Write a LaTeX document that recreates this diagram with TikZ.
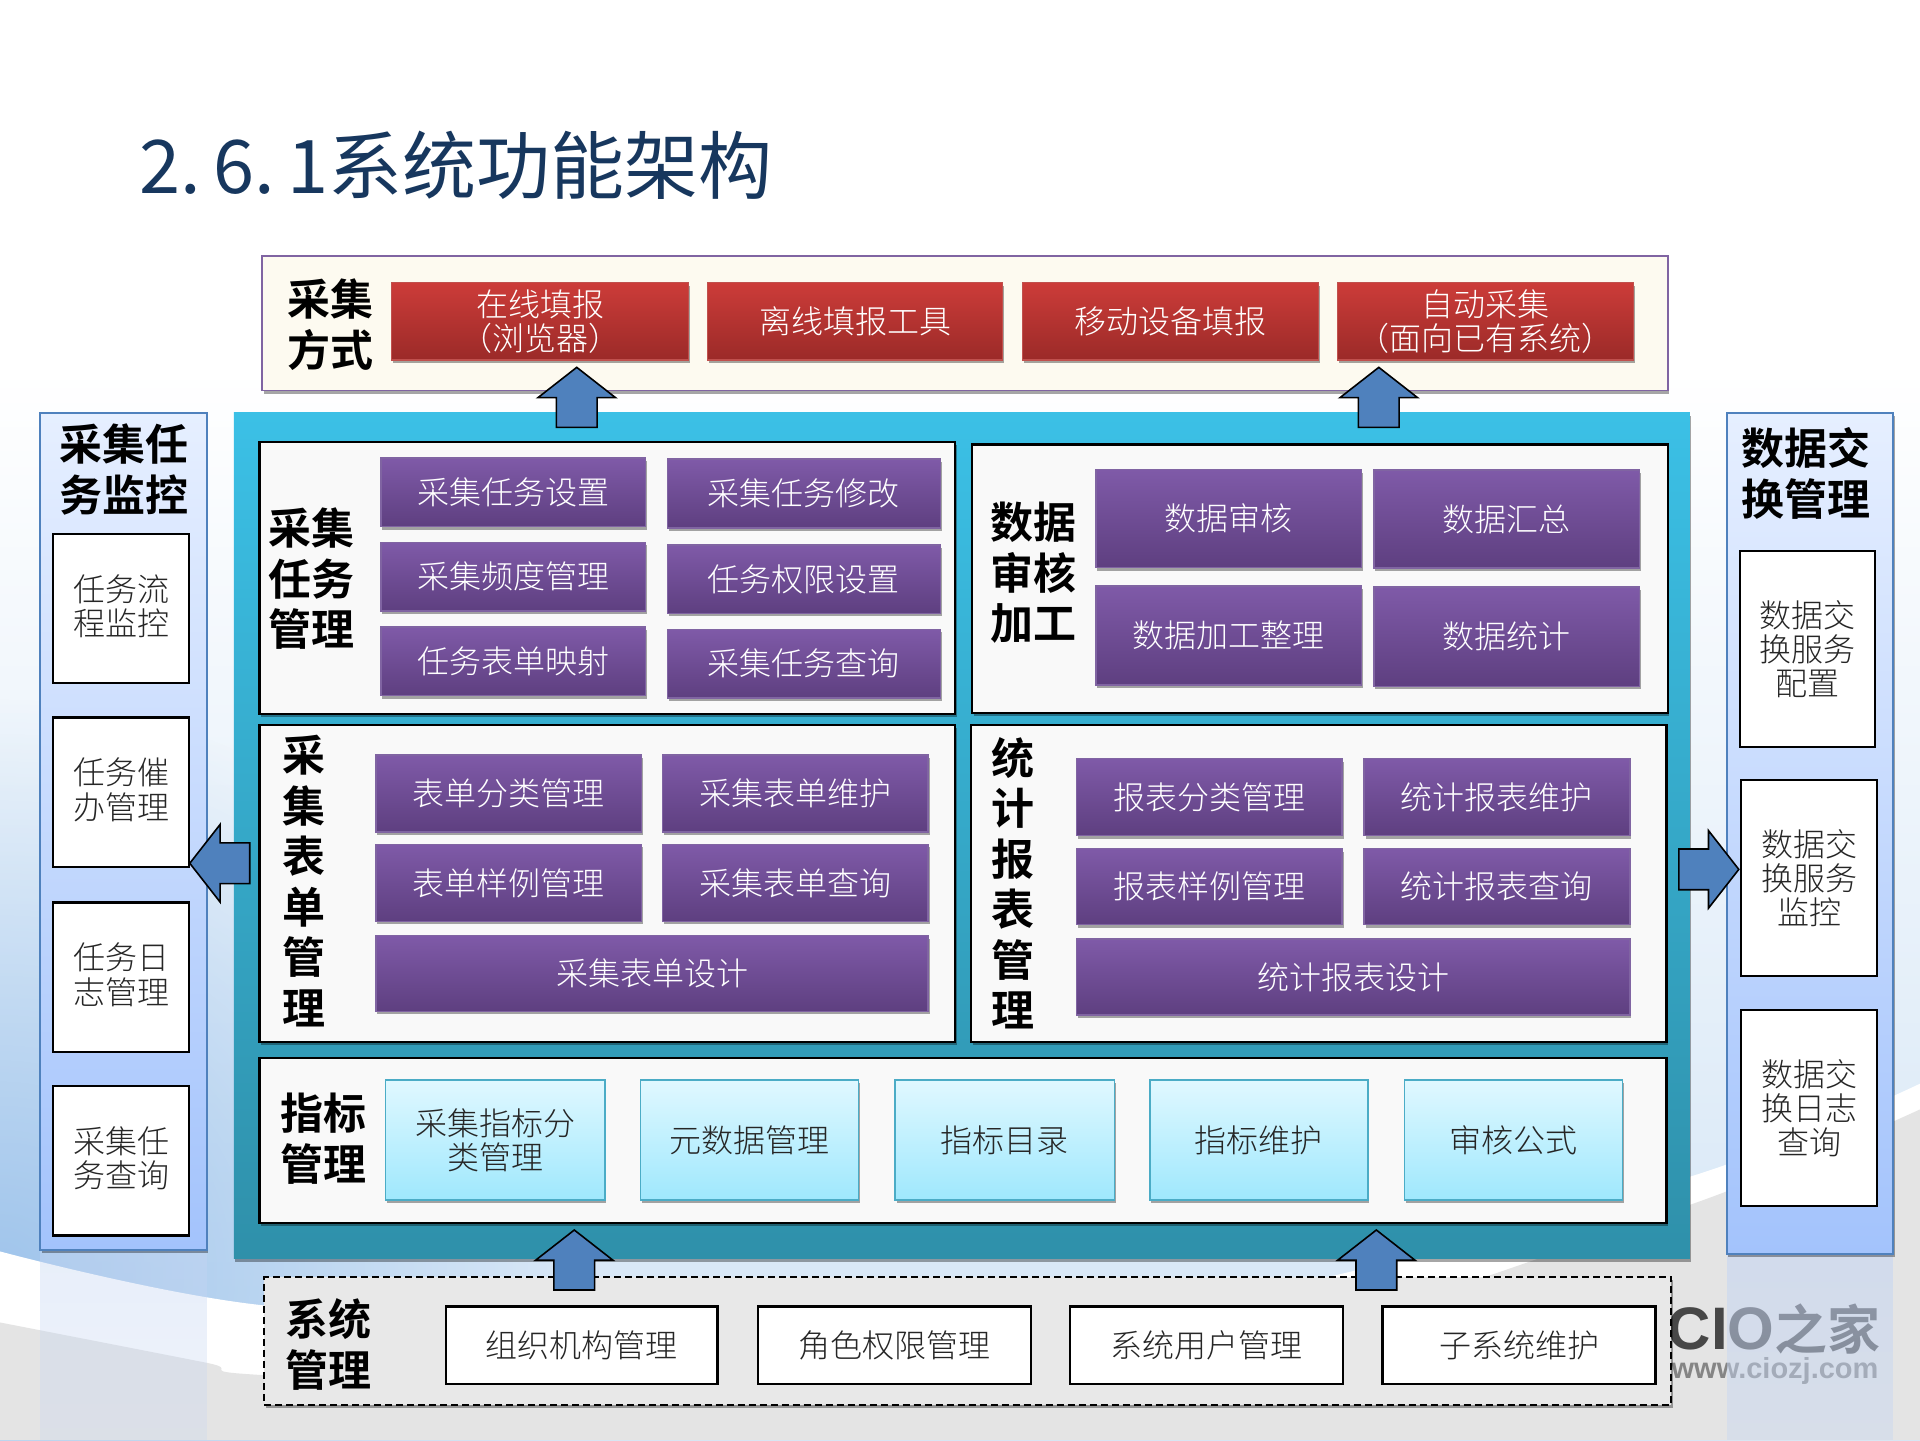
\documentclass[tikz,border=0pt]{standalone}
\usepackage{fontspec}
\usetikzlibrary{shapes.arrows,shadows,fadings}
\newfontfamily\cjk[BoldFont=Noto Sans CJK SC Bold]{Noto Sans CJK SC Light}
\newfontfamily\cjkreg{Noto Sans CJK SC}
\newfontfamily\wmfont{Liberation Sans}
\newcommand{\bodyfont}{\cjk\fontsize{32}{34.3}\selectfont}
\newcommand{\headfont}{\cjk\bfseries\fontsize{43}{50.5}\selectfont}
\definecolor{teallo}{HTML}{2F90AA}
\definecolor{tealhi}{HTML}{3BC0E6}
\definecolor{sideline}{HTML}{4F81BD}
\definecolor{redtop}{HTML}{CC3C39}
\definecolor{redlow}{HTML}{9B2A28}
\definecolor{redline}{HTML}{C0504D}
\definecolor{purpletop}{HTML}{7F5AA8}
\definecolor{purplelow}{HTML}{5E3F80}
\definecolor{purpleline}{HTML}{8064A2}
\definecolor{cyantop}{HTML}{E0F8FF}
\definecolor{cyanlow}{HTML}{9FE8FD}
\definecolor{cyanline}{HTML}{4BACC6}
\definecolor{sidetop}{HTML}{E6EFFF}
\definecolor{sidelow}{HTML}{A3C3FC}
\definecolor{skyglow}{HTML}{8DB9E8}
\definecolor{skyback}{HTML}{D2E4F5}
\definecolor{greyfloor}{HTML}{E4E4E4}
\definecolor{titleblue}{HTML}{17375E}
\definecolor{sideback}{HTML}{C6D6F2}
\definecolor{cream}{HTML}{FDFAF0}
\tikzfading[name=softglow,inner color=transparent!25,outer color=transparent!100]
\tikzfading[name=downfade,top color=transparent!20,bottom color=transparent!45]
\begin{document}
\begin{tikzpicture}[x=1.22449pt,y=-1.22449pt,
	wh/.style 2 args={minimum width=#1*1.22449pt,minimum height=#2*1.22449pt},
	boxbase/.style={rectangle,inner sep=0pt,outer sep=0pt,align=center,font=\bodyfont},
	softshadow/.style={drop shadow={shadow xshift=1.5pt,shadow yshift=-3pt,opacity=0.35,fill=black}},
	redbox/.style={boxbase,softshadow,top color=redtop,bottom color=redlow,draw=redline,line width=1.2pt,text=white},
	purplebox/.style={boxbase,softshadow,top color=purpletop,bottom color=purplelow,draw=purpleline,line width=1.5pt,text=white},
	cyanbox/.style={boxbase,softshadow,top color=cyantop,bottom color=cyanlow,draw=cyanline,line width=1.5pt,text=black!85},
	whitebox/.style={boxbase,fill=white,draw=black,line width=2.2pt,text=black!85},
	subpanel/.style={boxbase,softshadow,fill=black!2.5,draw=black,line width=2.2pt},
	sidepanel/.style={boxbase,softshadow,top color=sidetop,bottom color=sidelow,draw=sideline,line width=2pt},
	headlabel/.style={rectangle,inner sep=0pt,align=center,font=\headfont,text=black},
	blockarrow/.style={single arrow,single arrow tip angle=104,single arrow head extend=15*1.22449pt,single arrow head indent=0pt,inner xsep=0pt,inner ysep=16*1.22449pt,outer sep=0pt,fill=sideline,draw=black,line width=1.6pt,minimum height=49*1.22449pt},
	]
\useasboundingbox (0,0) rectangle (1568,1176);
\fill[top color=white,bottom color=skyback] (0,300) rectangle (1568,1176);
\fill[white] (0,0) rectangle (1568,300.5);
\fill[skyglow,path fading=softglow] (0,1040) circle (470);
\fill[white] plot[smooth] coordinates {(0,1022) (215,1066) (600,1085) (1000,1060) (1380,961) (1568,885)} -- (1568,1176) -- (0,1176) -- cycle;
\fill[greyfloor] plot[smooth] coordinates {(0,1080) (169,1113) (215,1123) (600,1138) (1000,1105) (1380,984) (1568,906)} -- (1568,1176) -- (0,1176) -- cycle;

\node[anchor=west,inner sep=0pt,font=\cjkreg\fontsize{74}{80}\selectfont,text=titleblue](title) at (114,135){\spaceskip=6.5pt 2. 6. 1系统功能架构};

\node[anchor=west,inner sep=0pt,font=\wmfont\bfseries\fontsize{60}{60}\selectfont,text=black!72](wmcio) at (1362,1085){CIO{\cjk\bfseries\fontsize{53}{53}\selectfont 之家}};
\node[anchor=west,inner sep=0pt,font=\wmfont\bfseries\fontsize{29}{29}\selectfont,text=black!48](wmurl) at (1365,1120){www.ciozj.com};
\fill[sideback,opacity=0.5,path fading=downfade] (33,1021) rectangle (169,1176);
\fill[sideback,opacity=0.75,path fading=downfade] (1410,1024) rectangle (1546,1176);

\node[boxbase,softshadow,fill=cream,draw=purpleline,line width=1.6pt,wh={1148}{110}](waypanel) at (788,264){};
\node[headlabel](waylabel) at (270,265){采集\\方式};
\node[redbox,wh={242}{63}](online) at (441,262.5){在线填报\\（浏览器）};
\node[redbox,wh={241}{63}](offline) at (698.5,262.5){离线填报工具};
\node[redbox,wh={242}{63}](mobile) at (956,262.5){移动设备填报};
\node[redbox,wh={242}{63}](auto) at (1213,262.5){自动采集\\（面向已有系统）};

\node[boxbase,softshadow,top color=tealhi,bottom color=teallo,wh={1189}{691}](mainpanel) at (785.5,682.5){};

\node[subpanel,wh={568}{222}](taskpanel) at (496,472){};
\node[headlabel](tasklabel) at (254,472.5){采集\\任务\\管理};
\node[purplebox,wh={216}{56}](t1) at (419,402){采集任务设置};
\node[purplebox,wh={223}{56}](t2) at (656.5,403){采集任务修改};
\node[purplebox,wh={216}{56}](t3) at (419,471){采集频度管理};
\node[purplebox,wh={223}{56}](t4) at (656.5,473){任务权限设置};
\node[purplebox,wh={216}{56}](t5) at (419,540){任务表单映射};
\node[purplebox,wh={223}{56}](t6) at (656.5,542){采集任务查询};

\node[subpanel,wh={568}{219}](datapanel) at (1078,472.5){};
\node[headlabel](datalabel) at (844,468){数据\\审核\\加工};
\node[purplebox,wh={217}{80}](d1) at (1003.5,423.5){数据审核};
\node[purplebox,wh={217}{80}](d2) at (1230.5,424){数据汇总};
\node[purplebox,wh={217}{81}](d3) at (1003.5,519){数据加工整理};
\node[purplebox,wh={217}{81}](d4) at (1230.5,520){数据统计};

\node[subpanel,wh={568}{259}](formpanel) at (496,721.5){};
\node[headlabel](formlabel) at (248,719.5){采\\集\\表\\单\\管\\理};
\node[purplebox,wh={217}{63}](f1) at (415.5,648){表单分类管理};
\node[purplebox,wh={217}{63}](f2) at (649.5,648){采集表单维护};
\node[purplebox,wh={217}{63}](f3) at (415.5,721){表单样例管理};
\node[purplebox,wh={217}{63}](f4) at (649.5,721){采集表单查询};
\node[purplebox,wh={451}{62}](f5) at (532.5,795){采集表单设计};

\node[subpanel,wh={568}{259}](reportpanel) at (1077,721.5){};
\node[headlabel](reportlabel) at (827,721.5){统\\计\\报\\表\\管\\理};
\node[purplebox,wh={217}{63}](r1) at (987.5,651){报表分类管理};
\node[purplebox,wh={217}{63}](r2) at (1222.5,651){统计报表维护};
\node[purplebox,wh={217}{62}](r3) at (987.5,724){报表样例管理};
\node[purplebox,wh={217}{62}](r4) at (1222.5,724){统计报表查询};
\node[purplebox,wh={452}{62}](r5) at (1105,798){统计报表设计};

\node[subpanel,wh={1149}{135}](indexpanel) at (786.5,931.5){};
\node[headlabel](indexlabel) at (264,930){指标\\管理};
\node[cyanbox,wh={179}{98}](i1) at (404.5,931){采集指标分\\类管理};
\node[cyanbox,wh={178}{98}](i2) at (612,931){元数据管理};
\node[cyanbox,wh={179}{98}](i3) at (820.5,931){指标目录};
\node[cyanbox,wh={178}{98}](i4) at (1028,931){指标维护};
\node[cyanbox,wh={178}{98}](i5) at (1236,931){审核公式};

\node[sidepanel,wh={136}{684}](monitorpanel) at (101,679){};
\node[headlabel](monitorlabel) at (101,383.5){采集任\\务监控};
\node[whitebox,text depth=7pt,wh={111}{122}](m1) at (99,497){任务流\\程监控};
\node[whitebox,text depth=7pt,wh={111}{122}](m2) at (99,647){任务催\\办管理};
\node[whitebox,text depth=7pt,wh={111}{122}](m3) at (99,798){任务日\\志管理};
\node[whitebox,text depth=7pt,wh={111}{122}](m4) at (99,948){采集任\\务查询};

\node[sidepanel,wh={136}{687}](exchangepanel) at (1478,680.5){};
\node[headlabel](exchangelabel) at (1475,386.5){数据交\\换管理};
\node[whitebox,wh={110}{160}](x1) at (1476,530){数据交\\换服务\\配置};
\node[whitebox,wh={111}{160}](x2) at (1477.5,717){数据交\\换服务\\监控};
\node[whitebox,wh={111}{160}](x3) at (1477.5,905){数据交\\换日志\\查询};

\node[boxbase,softshadow,fill=black!9,draw=black,dash pattern=on 7pt off 4pt,line width=2pt,wh={1149}{104}](syspanel) at (790.5,1095){};
\node[headlabel](syslabel) at (268,1098){系统\\管理};
\node[whitebox,wh={222}{63}](s1) at (475,1098.5){组织机构管理};
\node[whitebox,wh={223}{63}](s2) at (730.5,1098.5){角色权限管理};
\node[whitebox,wh={223}{63}](s3) at (985.5,1098.5){系统用户管理};
\node[whitebox,wh={223}{63}](s4) at (1240.5,1098.5){子系统维护};

\node[blockarrow,rotate=90](upleft) at (471,331){};
\node[blockarrow,rotate=90](upright) at (1126,331){};
\node[blockarrow,rotate=90](sysleft) at (469,1035.5){};
\node[blockarrow,rotate=90](sysright) at (1124,1035.5){};
\node[blockarrow,rotate=180](toleft) at (186,705){};
\node[blockarrow](toright) at (1389,710){};
\end{tikzpicture}
\end{document}
